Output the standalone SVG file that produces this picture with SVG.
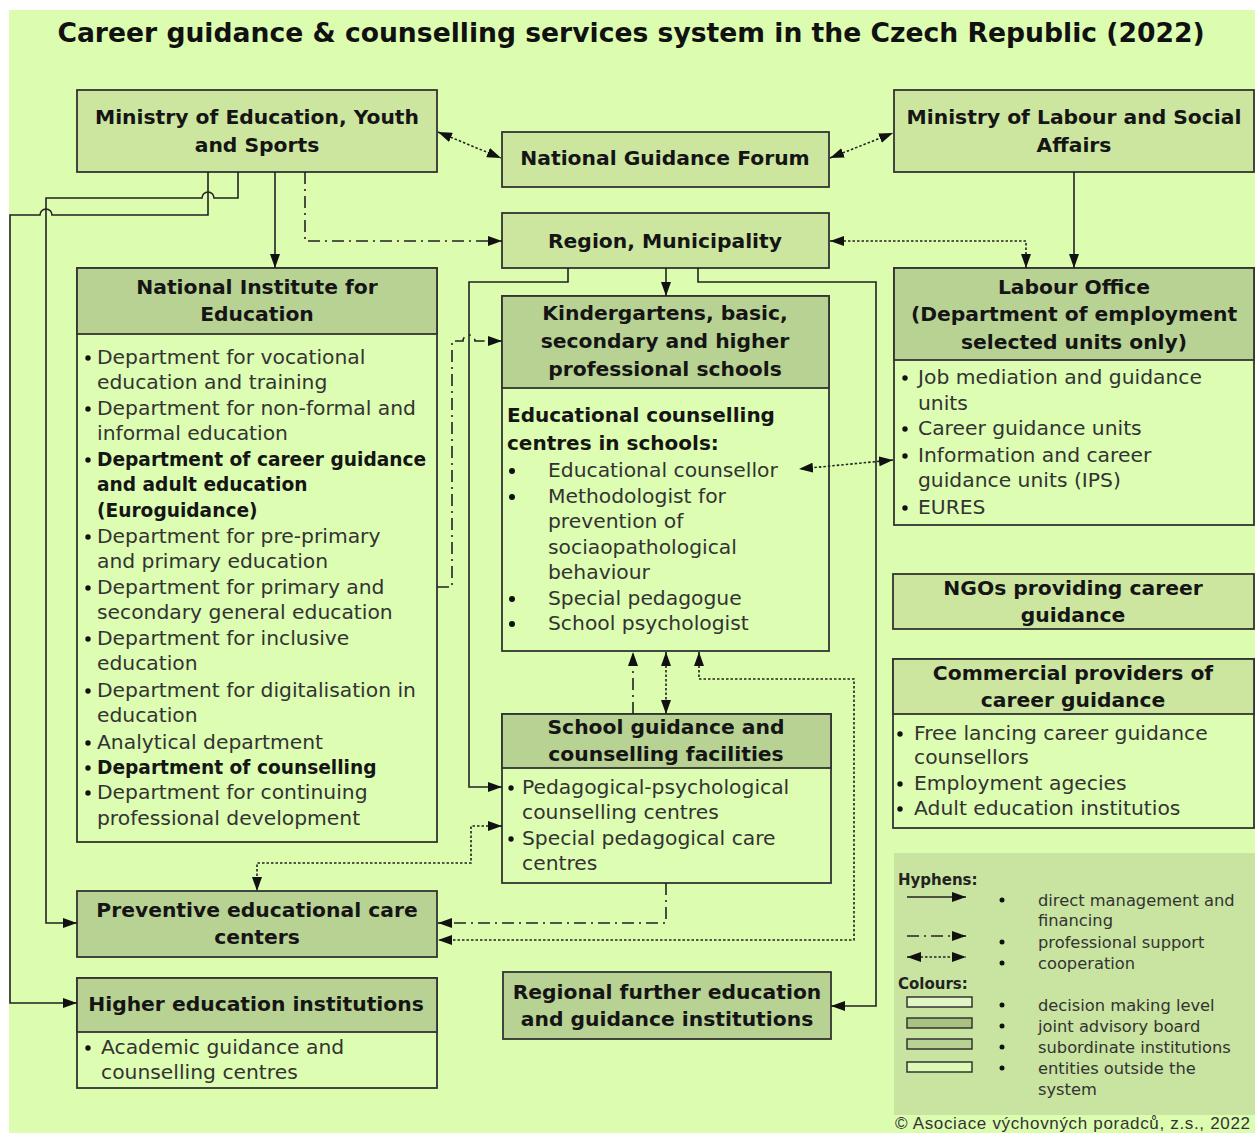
<svg xmlns="http://www.w3.org/2000/svg" width="1255" height="1133" viewBox="0 0 1255 1133">
<defs>
<style>
.hd{font-family:"DejaVu Sans",sans-serif;font-weight:bold;font-size:20.3px;fill:#151515;text-anchor:middle}
.bd{font-family:"DejaVu Sans",sans-serif;font-size:20.3px;fill:#333}
.bb{font-family:"DejaVu Sans",sans-serif;font-weight:bold;fill:#151515}
.lg{font-family:"DejaVu Sans",sans-serif;font-size:16.3px;fill:#333}
.lgb{font-family:"DejaVu Sans",sans-serif;font-weight:bold;font-size:15px;fill:#222}
.dec{fill:#cce6a0;stroke:#333;stroke-width:1.8}
.sub{fill:#b8d293;stroke:#333;stroke-width:1.8}
.lt{fill:#dcfdb2;stroke:#333;stroke-width:1.8}
.c{fill:none;stroke:#222;stroke-width:1.6}
.dot{stroke-dasharray:2.5,2}
.dd{stroke-dasharray:12,5,2,5}
.bu{fill:#111}
</style>
<marker id="ah" viewBox="0 0 14 10" refX="14" refY="5" markerWidth="14" markerHeight="10" markerUnits="userSpaceOnUse" orient="auto-start-reverse">
<path d="M0,0 L14,5 L0,10 z" fill="#111"/>
</marker>
</defs>
<rect x="0" y="0" width="1255" height="1133" fill="#ffffff"/>
<rect x="9" y="10" width="1246" height="1123" fill="#dcfdb0"/>
<text x="631" y="42" style="font-family:'DejaVu Sans',sans-serif;font-weight:bold;font-size:26.6px;fill:#111;text-anchor:middle">Career guidance &amp; counselling services system in the Czech Republic (2022)</text>

<g id="meys">
<rect class="dec" x="77" y="90" width="360" height="82"/>
<text class="hd" x="257" y="124">Ministry of Education, Youth</text>
<text class="hd" x="257" y="152">and Sports</text>
</g>

<g id="ngf">
<rect class="dec" x="502" y="132" width="327" height="55"/>
<text class="hd" x="665" y="165">National Guidance Forum</text>
</g>

<g id="mlsa">
<rect class="dec" x="894" y="90" width="360" height="82"/>
<text class="hd" x="1074" y="124">Ministry of Labour and Social</text>
<text class="hd" x="1074" y="152">Affairs</text>
</g>

<g id="region">
<rect class="dec" x="502" y="213" width="327" height="55"/>
<text class="hd" x="665" y="248">Region, Municipality</text>
</g>

<g id="nie">
<rect class="lt" x="77" y="268" width="360" height="574"/>
<rect class="sub" x="77" y="268" width="360" height="66"/>
<text class="hd" x="257" y="294">National Institute for</text>
<text class="hd" x="257" y="321">Education</text>
<g class="bu">
<circle cx="88" cy="358" r="2.7"/><circle cx="88" cy="409" r="2.7"/><circle cx="88" cy="460" r="2.7"/><circle cx="88" cy="537" r="2.7"/><circle cx="88" cy="588" r="2.7"/><circle cx="88" cy="639" r="2.7"/><circle cx="88" cy="691" r="2.7"/><circle cx="88" cy="743" r="2.7"/><circle cx="88" cy="768" r="2.7"/><circle cx="88" cy="793" r="2.7"/>
</g>
<text class="bd" x="97" y="364">Department for vocational</text>
<text class="bd" x="97" y="389">education and training</text>
<text class="bd" x="97" y="415">Department for non-formal and</text>
<text class="bd" x="97" y="440">informal education</text>
<text class="bb" x="97" y="466" font-size="18.6">Department of career guidance</text>
<text class="bb" x="97" y="491" font-size="18.6">and adult education</text>
<text class="bb" x="97" y="517" font-size="18.6">(Euroguidance)</text>
<text class="bd" x="97" y="543">Department for pre-primary</text>
<text class="bd" x="97" y="568">and primary education</text>
<text class="bd" x="97" y="594">Department for primary and</text>
<text class="bd" x="97" y="619">secondary general education</text>
<text class="bd" x="97" y="645">Department for inclusive</text>
<text class="bd" x="97" y="670">education</text>
<text class="bd" x="97" y="697">Department for digitalisation in</text>
<text class="bd" x="97" y="722">education</text>
<text class="bd" x="97" y="749">Analytical department</text>
<text class="bb" x="97" y="774" font-size="18.6">Department of counselling</text>
<text class="bd" x="97" y="799">Department for continuing</text>
<text class="bd" x="97" y="825">professional development</text>
</g>

<g id="schools">
<rect class="lt" x="502" y="296" width="327" height="355"/>
<rect class="sub" x="502" y="296" width="327" height="92"/>
<text class="hd" x="665" y="320">Kindergartens, basic,</text>
<text class="hd" x="665" y="348">secondary and higher</text>
<text class="hd" x="665" y="376">professional schools</text>
<text class="bb" x="507" y="422" font-size="20">Educational counselling</text>
<text class="bb" x="507" y="450" font-size="20">centres in schools:</text>
<g class="bu">
<circle cx="512" cy="471" r="3"/><circle cx="512" cy="497" r="3"/><circle cx="512" cy="599" r="3"/><circle cx="512" cy="624" r="3"/>
</g>
<text class="bd" x="548" y="477">Educational counsellor</text>
<text class="bd" x="548" y="503">Methodologist for</text>
<text class="bd" x="548" y="528">prevention of</text>
<text class="bd" x="548" y="554">sociaopathological</text>
<text class="bd" x="548" y="579">behaviour</text>
<text class="bd" x="548" y="605">Special pedagogue</text>
<text class="bd" x="548" y="630">School psychologist</text>
</g>

<g id="labour">
<rect class="lt" x="894" y="268" width="360" height="257"/>
<rect class="sub" x="894" y="268" width="360" height="92"/>
<text class="hd" x="1074" y="294">Labour Office</text>
<text class="hd" x="1074" y="321">(Department of employment</text>
<text class="hd" x="1074" y="349">selected units only)</text>
<g class="bu">
<circle cx="905" cy="378" r="2.7"/><circle cx="905" cy="429" r="2.7"/><circle cx="905" cy="456" r="2.7"/><circle cx="905" cy="508" r="2.7"/>
</g>
<text class="bd" x="918" y="384">Job mediation and guidance</text>
<text class="bd" x="918" y="410">units</text>
<text class="bd" x="918" y="435">Career guidance units</text>
<text class="bd" x="918" y="462">Information and career</text>
<text class="bd" x="918" y="487">guidance units (IPS)</text>
<text class="bd" x="918" y="514">EURES</text>
</g>

<g id="ngos">
<rect class="dec" x="893" y="574" width="361" height="55"/>
<text class="hd" x="1073" y="595">NGOs providing career</text>
<text class="hd" x="1073" y="622">guidance</text>
</g>

<g id="commercial">
<rect class="lt" x="893" y="659" width="361" height="169"/>
<rect class="dec" x="893" y="659" width="361" height="55"/>
<text class="hd" x="1073" y="680">Commercial providers of</text>
<text class="hd" x="1073" y="707">career guidance</text>
<g class="bu">
<circle cx="900" cy="734" r="2.7"/><circle cx="900" cy="784" r="2.7"/><circle cx="900" cy="809" r="2.7"/>
</g>
<text class="bd" x="914" y="740">Free lancing career guidance</text>
<text class="bd" x="914" y="764">counsellors</text>
<text class="bd" x="914" y="790">Employment agecies</text>
<text class="bd" x="914" y="815">Adult education institutios</text>
</g>

<g id="sgcf">
<rect class="lt" x="502" y="714" width="329" height="169"/>
<rect class="sub" x="502" y="714" width="329" height="54"/>
<text class="hd" x="666" y="734">School guidance and</text>
<text class="hd" x="666" y="761">counselling facilities</text>
<g class="bu">
<circle cx="511" cy="788" r="2.7"/><circle cx="511" cy="839" r="2.7"/>
</g>
<text class="bd" x="522" y="794">Pedagogical-psychological</text>
<text class="bd" x="522" y="819">counselling centres</text>
<text class="bd" x="522" y="845">Special pedagogical care</text>
<text class="bd" x="522" y="870">centres</text>
</g>

<g id="preventive">
<rect class="sub" x="77" y="891" width="360" height="66"/>
<text class="hd" x="257" y="917">Preventive educational care</text>
<text class="hd" x="257" y="944">centers</text>
</g>

<g id="higher">
<rect class="lt" x="77" y="978" width="360" height="110"/>
<rect class="sub" x="77" y="978" width="360" height="54"/>
<text class="hd" x="256" y="1011">Higher education institutions</text>
<circle class="bu" cx="88" cy="1048" r="2.7"/>
<text class="bd" x="101" y="1054">Academic guidance and</text>
<text class="bd" x="101" y="1079">counselling centres</text>
</g>

<g id="regional">
<rect class="sub" x="503" y="972" width="328" height="67"/>
<text class="hd" x="667" y="999">Regional further education</text>
<text class="hd" x="667" y="1026">and guidance institutions</text>
</g>

<g id="connectors">
<path class="c" d="M275,172 V268" marker-end="url(#ah)"/>
<path class="c dd" d="M305,172 V241 H502" marker-end="url(#ah)"/>
<path class="c" d="M238,172 V198 H214 A6,6 0 0 0 202,198 H46 V923 H77" marker-end="url(#ah)"/>
<path class="c" d="M208,172 V215 H52 A6,6 0 0 0 40,215 H10 V1003 H77" marker-end="url(#ah)"/>
<path class="c dot" d="M438,132 L501,158" marker-start="url(#ah)" marker-end="url(#ah)"/>
<path class="c dot" d="M830,158 L893,133" marker-start="url(#ah)" marker-end="url(#ah)"/>
<path class="c" d="M1074,172 V268" marker-end="url(#ah)"/>
<path class="c dot" d="M830,241 H1026 V268" marker-start="url(#ah)" marker-end="url(#ah)"/>
<path class="c" d="M666,268 V296" marker-end="url(#ah)"/>
<path class="c" d="M568,268 V282 H469 V787 H502" marker-end="url(#ah)"/>
<path class="c" d="M698,268 V282 H876 V1006 H831" marker-end="url(#ah)"/>
<path class="c dd" d="M437,587 H452 V341 H463 A6,6 0 0 1 475,341 H502" marker-end="url(#ah)"/>
<path class="c dot" d="M893,460 L799,469" marker-start="url(#ah)" marker-end="url(#ah)"/>
<path class="c dd" d="M633,714 V652" marker-end="url(#ah)"/>
<path class="c dot" d="M666,652 V714" marker-start="url(#ah)" marker-end="url(#ah)"/>
<path class="c dot" d="M699,652 V679 H854 V940 H438" marker-start="url(#ah)" marker-end="url(#ah)"/>
<path class="c dd" d="M666,883 V923 H438" marker-end="url(#ah)"/>
<path class="c dot" d="M502,826 H471 V863 H257 V891" marker-start="url(#ah)" marker-end="url(#ah)"/>
</g>

<g id="legend">
<rect x="894" y="853" width="361" height="262" fill="#c8e4a0"/>
<text class="lgb" x="898" y="885">Hyphens:</text>
<path class="c" d="M907,897 H966" marker-end="url(#ah)"/>
<path class="c dd" d="M907,936 H966" marker-end="url(#ah)"/>
<path class="c dot" d="M907,957 H966" marker-start="url(#ah)" marker-end="url(#ah)"/>
<text class="lgb" x="898" y="989">Colours:</text>
<rect x="907" y="997" width="65" height="10" fill="#e2f5c6" stroke="#333" stroke-width="1.5"/>
<rect x="907" y="1018" width="65" height="10" fill="#a8c282" stroke="#333" stroke-width="1.5"/>
<rect x="907" y="1039" width="65" height="10" fill="#b8d293" stroke="#333" stroke-width="1.5"/>
<rect x="907" y="1062" width="65" height="10" fill="#dcfab6" stroke="#333" stroke-width="1.5"/>
<g class="bu">
<circle cx="1002" cy="900" r="2.5"/><circle cx="1002" cy="942" r="2.5"/><circle cx="1002" cy="963" r="2.5"/><circle cx="1002" cy="1005" r="2.5"/><circle cx="1002" cy="1026" r="2.5"/><circle cx="1002" cy="1047" r="2.5"/><circle cx="1002" cy="1068" r="2.5"/>
</g>
<text class="lg" x="1038" y="906">direct management and</text>
<text class="lg" x="1038" y="926">financing</text>
<text class="lg" x="1038" y="948">professional support</text>
<text class="lg" x="1038" y="969">cooperation</text>
<text class="lg" x="1038" y="1011">decision making level</text>
<text class="lg" x="1038" y="1032">joint advisory board</text>
<text class="lg" x="1038" y="1053">subordinate institutions</text>
<text class="lg" x="1038" y="1074">entities outside the</text>
<text class="lg" x="1038" y="1095">system</text>
</g>
<text x="895" y="1129" textLength="355" lengthAdjust="spacing" style="font-family:'Liberation Sans',sans-serif;font-size:17px;fill:#333">© Asociace výchovných poradců, z.s., 2022</text>
</svg>
